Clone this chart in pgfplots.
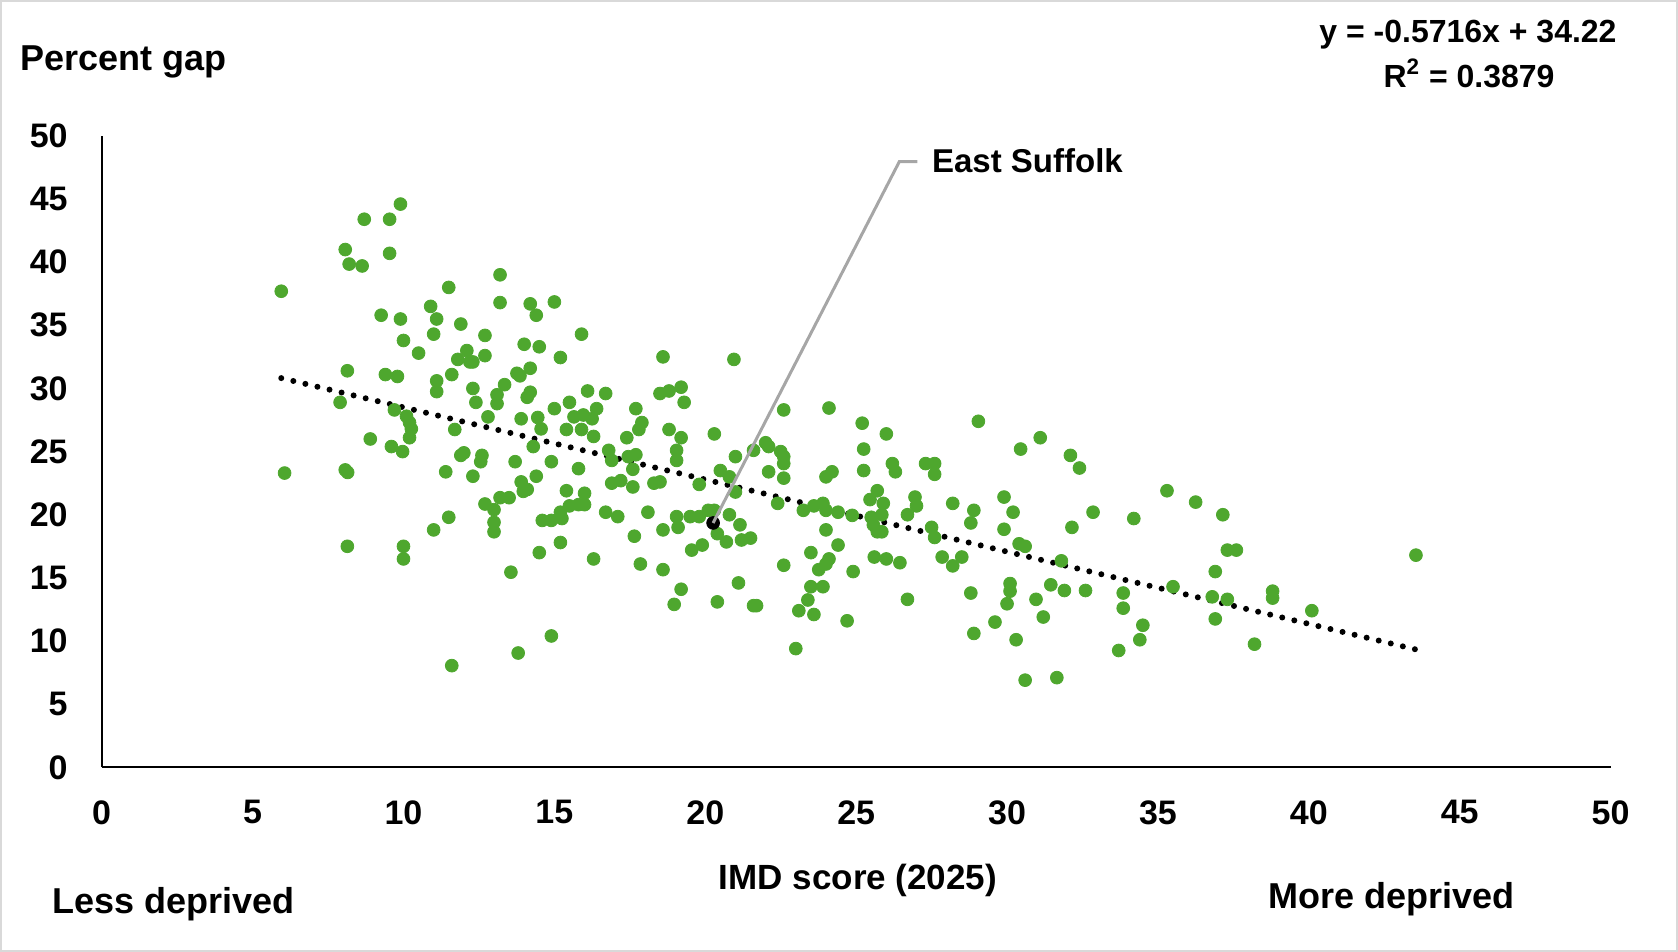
\documentclass[border=0pt]{standalone}
\usepackage{pgfplots}
\pgfplotsset{compat=1.18}
\usepackage{fontspec}
\setmainfont{Liberation Sans}
\definecolor{ptgreen}{RGB}{78,167,46}
\definecolor{frame}{RGB}{217,217,217}
\definecolor{leader}{RGB}{166,166,166}

\begin{document}
\begin{tikzpicture}
\path[use as bounding box] (0,0) rectangle (839bp,476bp);
\draw[line width=1bp, frame] (0.5bp,0.5bp) rectangle (838.5bp,475.5bp);
\begin{axis}[
  at={(50.85bp,92.35bp)}, anchor=south west,
  scale only axis, width=754.45bp, height=315.7bp,
  xmin=0, xmax=50, ymin=0, ymax=50,
  axis x line=bottom, axis y line=left,
  axis line style={-, line width=1bp, black},
  xtick={0,5,...,50}, ytick={0,5,...,50},
  major tick length=0pt,
  /pgf/number format/assume math mode=true,
  tick label style={font=\fontsize{17bp}{20bp}\selectfont\bfseries, inner sep=0pt},
  xticklabel style={anchor=north, yshift=-16.35bp},
  yticklabel style={anchor=east, xshift=-16.85bp},
  clip=false,
]
% local authorities
\addplot[only marks, mark=*, color=ptgreen, mark size=3.2bp, mark options={solid, draw=ptgreen, fill=ptgreen}]
coordinates {
(5.95,37.7) (6.06,23.3) (7.9,28.9) (8.07,41.0) (8.14,31.4) (8.07,23.55) (8.15,23.35) (8.14,17.5)
(8.2,39.85) (8.63,39.7) (8.7,43.4) (8.9,26.0) (9.26,35.8) (9.4,31.1) (9.54,43.4) (9.54,40.7)
(9.6,25.4) (9.7,28.3) (9.9,44.6) (9.8,30.95) (9.9,35.5) (9.97,25.0) (10.0,33.8) (10.0,17.5)
(10.0,16.5) (10.1,27.8) (10.2,27.3) (10.26,26.8) (10.2,26.1) (10.5,32.8)
(10.9,36.5) (11.0,34.3) (11.1,35.5) (11.1,30.6) (11.1,29.75) (11.0,18.8) (11.4,23.4) (11.5,38.0)
(11.5,19.8) (11.6,31.1) (11.7,26.75) (11.6,8.05) (11.9,35.1) (11.8,32.3) (11.9,24.7) (12.0,24.9)
(12.1,33.0) (12.2,32.1) (12.3,32.1) (12.3,30.0) (12.4,28.9) (12.3,23.05) (12.6,24.7) (12.56,24.2)
(12.7,34.2) (12.7,32.6) (12.8,27.75) (12.7,20.85) (13.0,20.4) (13.0,19.4) (13.0,18.65) (13.1,29.5)
(13.1,28.8) (13.2,39.0) (13.2,36.8) (13.2,21.35) (13.35,30.3) (13.5,21.35) (13.56,15.45) (13.7,24.2)
(13.76,31.2) (13.86,31.0) (13.8,9.05) (13.9,27.6) (13.9,22.6) (13.97,21.85) (14.0,33.5) (14.1,22.0)
(14.2,36.7) (14.2,31.6) (14.2,29.7) (14.1,29.3) (14.3,25.4) (14.4,35.8) (14.4,23.05) (14.45,27.7)
(14.5,33.3) (14.56,26.8) (14.5,17.0) (14.6,19.55) (14.9,19.55) (14.9,24.2) (14.9,10.4) (15.0,36.85)
(15.0,28.4) (15.2,32.45) (15.2,20.2) (15.2,17.8) (15.25,19.7)
(15.4,26.75) (15.4,21.9) (15.5,28.9) (15.5,20.7) (15.65,27.75) (15.8,23.65) (15.8,20.8) (15.9,34.3)
(15.9,26.75) (15.96,27.9) (16.0,21.7) (16.0,20.8) (16.1,29.8) (16.25,27.6) (16.3,26.2) (16.3,16.5)
(16.4,28.4) (16.7,29.6) (16.7,20.2) (16.8,25.1) (16.9,24.3) (16.9,22.5) (17.1,19.85) (17.2,22.7)
(17.4,26.1) (17.45,24.6) (17.6,23.6) (17.6,22.2) (17.65,18.3) (17.7,28.4) (17.7,24.75) (17.8,26.75)
(17.85,16.1) (17.9,27.3) (18.1,20.2) (18.3,22.5) (18.5,22.6) (18.5,29.6) (18.6,32.5) (18.6,18.8)
(18.6,15.65) (18.8,29.8) (18.8,26.75) (18.97,12.9) (19.05,25.1) (19.05,24.3) (19.05,19.85) (19.1,19.0)
(19.2,30.1) (19.2,26.1) (19.2,14.1) (19.3,28.9) (19.5,19.85) (19.55,17.2) (19.8,22.4) (19.8,19.85)
(19.9,17.6) (20.1,20.35) (20.3,20.35) (20.3,26.4) (20.4,18.5) (20.4,13.1) (20.5,23.5) (20.8,23.0)
(20.8,20.0) (20.7,17.85) (20.95,32.3) (21.0,24.6) (21.0,21.8) (21.1,14.6) (21.15,19.2) (21.2,18.0)
(21.5,18.15) (21.6,25.1) (21.6,12.8) (21.7,12.8) (22.0,25.7) (22.1,25.4) (22.1,23.4) (22.4,20.9)
(22.5,25.0) (22.6,24.6) (22.6,24.05) (22.6,28.3) (22.6,22.9) (22.6,16.0) (23.0,9.4)
(23.1,12.4) (23.25,20.35) (23.4,13.25) (23.5,17.0) (23.5,14.3) (23.6,20.7) (23.6,12.1) (23.76,15.65)
(23.9,20.9) (23.9,14.3) (24.0,20.35) (24.0,18.8) (24.0,23.0) (24.0,16.1) (24.1,16.5) (24.1,28.45)
(24.2,23.4) (24.4,20.2) (24.4,17.6) (24.7,11.6) (24.87,19.95) (24.9,15.5) (25.2,27.25) (25.25,25.2)
(25.25,23.5) (25.46,21.2) (25.5,19.8) (25.57,19.2) (25.6,16.65) (25.7,21.9) (25.7,18.65) (25.85,18.65)
(25.85,20.0) (25.9,20.9) (26.0,26.4) (26.0,16.5) (26.2,24.05) (26.3,23.4) (26.45,16.2) (26.7,20.0)
(26.7,13.3) (26.95,21.4) (27.0,20.7) (27.3,24.05) (27.5,19.0) (27.6,24.05) (27.6,23.2) (27.6,18.2)
(27.85,16.65) (28.2,20.9) (28.2,15.95) (28.5,16.65) (28.8,19.35) (28.8,13.8) (28.9,20.35) (28.9,10.6)
(29.05,27.4) (29.6,11.5) (29.9,21.4) (29.9,18.85) (30.0,12.95) (30.1,14.55) (30.1,13.95) (30.2,20.2)
(30.3,10.1) (30.4,17.7) (30.6,17.5) (30.45,25.2) (30.6,6.9) (30.96,13.3) (31.1,26.1) (31.2,11.9)
(31.45,14.45) (31.65,7.1) (31.8,16.35) (31.9,14.0) (32.1,24.7) (32.15,19.0) (32.4,23.7) (32.6,14.0)
(32.85,20.2) (33.7,9.25) (33.85,13.8) (33.85,12.6) (34.2,19.7) (34.4,10.1) (34.5,11.25) (35.3,21.9)
(35.5,14.3) (36.25,21.0) (36.8,13.5) (36.9,15.5) (36.9,11.75) (37.15,20.0) (37.3,17.2) (37.3,13.3)
(37.6,17.2) (38.2,9.75) (38.8,13.95) (38.8,13.4) (40.1,12.4) (43.55,16.8)
};
% linear trend
\addplot[black, line width=3bp, line cap=round, dash pattern=on 0bp off 6.2bp]
coordinates {(5.95,30.82) (43.55,9.33)};
% East Suffolk
\addplot[only marks, mark=*, color=black, mark size=3.2bp, mark options={solid, draw=black, fill=black}]
coordinates {(20.26,19.35)};
\coordinate (es) at (axis cs:20.26,19.35);
\end{axis}
\draw[leader, line width=1.5bp] (es) -- (449.65bp,395.15bp) -- (458.65bp,395.15bp);
\node[anchor=base west, inner sep=0pt, font=\fontsize{16.5bp}{20bp}\selectfont\bfseries]
  at (465.85bp,389.65bp) {East Suffolk};
\node[anchor=base west, inner sep=0pt, font=\fontsize{18bp}{22bp}\selectfont\bfseries]
  at (10bp,440.5bp) {Percent gap};
\node[anchor=base, inner sep=0pt, font=\fontsize{16bp}{20bp}\selectfont\bfseries]
  at (734bp,454.85bp) {y = -0.5716x + 34.22};
\node[anchor=base, inner sep=0pt, font=\fontsize{16bp}{20bp}\selectfont\bfseries]
  at (734.5bp,432.35bp) {R\textsuperscript{2} = 0.3879};
\node[anchor=base, inner sep=0pt, font=\fontsize{17.5bp}{21bp}\selectfont\bfseries]
  at (429bp,31.35bp) {IMD score (2025)};
\node[anchor=base west, inner sep=0pt, font=\fontsize{18bp}{22bp}\selectfont\bfseries]
  at (25.85bp,19.35bp) {Less deprived};
\node[anchor=base west, inner sep=0pt, font=\fontsize{18bp}{22bp}\selectfont\bfseries]
  at (634.15bp,21.85bp) {More deprived};
\end{tikzpicture}
\end{document}
